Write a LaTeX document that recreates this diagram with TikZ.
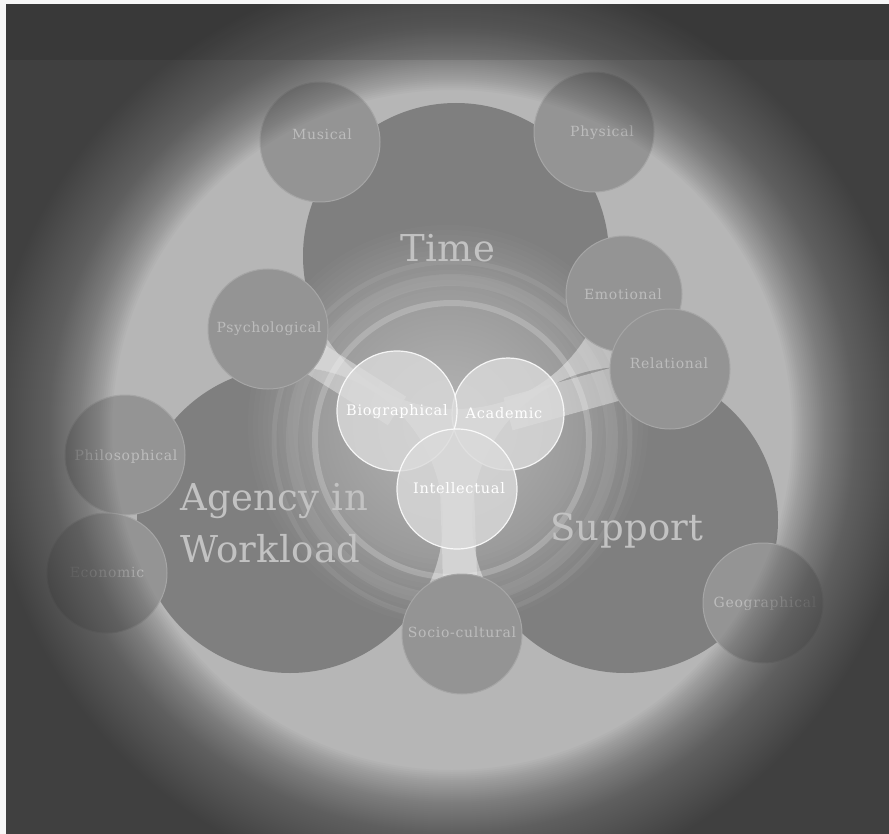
\documentclass[tikz,border=0pt]{standalone}
\usepackage{fontspec}
\setmainfont{DejaVu Serif}
\newfontfamily\labfont[LetterSpace=5]{DejaVu Serif}
\newfontfamily\bigfont[LetterSpace=1]{DejaVu Serif}
\definecolor{plate}{HTML}{B6B6B6}
\definecolor{bigc}{HTML}{7F7F7F}
\definecolor{satc}{HTML}{949494}
\definecolor{satrim}{HTML}{A6A6A6}
\definecolor{corec}{HTML}{DADADA}
\definecolor{labc}{HTML}{BCBCBC}
\definecolor{bigl}{HTML}{C2C2C2}
\definecolor{vdark}{HTML}{404040}
\pgfdeclarelayer{bg}
\pgfdeclarelayer{mid}
\pgfdeclarelayer{top}
\pgfsetlayers{bg,mid,main,top}
\tikzset{
  bigcircle/.style={circle, fill=bigc, minimum size=306pt, inner sep=0pt},
  sat/.style={circle, fill=satc, draw=satrim, line width=1pt, minimum size=120pt, inner sep=0pt},
  corecircle/.style={circle, fill=corec, fill opacity=0.8, draw=white, draw opacity=0.85, line width=1.2pt, minimum size=120pt, inner sep=0pt},
  lab/.style={text=labc, font=\labfont\fontsize{14}{16}\selectfont, inner sep=0pt, anchor=base},
  corelab/.style={text=white, font=\labfont\fontsize{14.5}{16}\selectfont, inner sep=0pt, anchor=base},
  bigtxt/.style={text=bigl, font=\bigfont\fontsize{37}{44}\selectfont, inner sep=0pt},
  band/.style={line width=34pt, draw=white, draw opacity=0.4},
  glowring/.style={draw=white, line width=#1},
}
\begin{document}
\begin{tikzpicture}[x=1pt,y=-1pt]
\useasboundingbox (0,0) rectangle (889,834);
\begin{pgfonlayer}{bg}
  \fill[plate] (0,0) rectangle (889,834);
  \node[bigcircle] (time) at (456,256) {};
  \node[bigcircle] (agency) at (290,520) {};
  \node[bigcircle] (support) at (625,520) {};
\end{pgfonlayer}

% satellites
\node[sat] (musical) at (320,142) {};
\node[sat] (physical) at (594,132) {};
\node[sat, minimum size=116pt] (emotional) at (624,294) {};
\node[sat] (relational) at (670,369) {};
\node[sat] (psychological) at (268,329) {};
\node[sat] (philosophical) at (125,455) {};
\node[sat] (economic) at (107,573) {};
\node[sat] (sociocultural) at (462,634) {};
\node[sat] (geographical) at (763,603) {};
% core circles
\node[corecircle, minimum size=112pt] (academic) at (508,414) {};
\node[corecircle] (biographical) at (397,411) {};
\node[corecircle] (intellectual) at (457,489) {};

% labels
\node[lab] (tMus) at (322,140) {Musical};
\node[lab] (tPhy) at (602,137) {Physical};
\node[lab] (tEmo) at (623,300) {Emotional};
\node[lab] (tRel) at (669,368) {Relational};
\node[lab] (tPsy) at (269,333) {Psychological};
\node[lab] (tPhi) at (126,460) {Philosophical};
\node[lab] (tEco) at (107,577) {Economic};
\node[lab] (tSoc) at (462,637) {Socio-cultural};
\node[lab] (tGeo) at (765,607) {Geographical};
\node[corelab] (tBio) at (397,415) {Biographical};
\node[corelab] (tAca) at (504,418) {Academic};
\node[corelab] (tInt) at (459,493) {Intellectual};

\begin{pgfonlayer}{mid}
  % connector bands from the core to three satellites
  \draw[band] (biographical.center) -- (psychological.center);
  \draw[band] (academic.center) -- (relational.center);
  \draw[band] (intellectual.center) -- (sociocultural.center);
  % central glow
  \foreach \r in {200,195,...,30} {
    \fill[white, fill opacity=0.02] (448,425) circle (\r pt);
  }
  % glowing rings
  \draw[glowring=6pt, draw opacity=0.2] (452,440) circle (137pt);
  \draw[glowring=12pt, draw opacity=0.07] (452,440) circle (160pt);
  \draw[glowring=5pt, draw opacity=0.07] (452,440) circle (178pt);
  % big labels
  \node[bigtxt, anchor=base] (tTime) at (448,262) {Time};
  \node[bigtxt, anchor=base west] (tAg1) at (180,510) {Agency in};
  \node[bigtxt, anchor=base west] (tAg2) at (180,562) {Workload};
  \node[bigtxt, anchor=base] (tSup) at (627,540) {Support};
\end{pgfonlayer}

\begin{pgfonlayer}{top}
  % soft vignette
  \foreach \r in {340,342,...,520} {
    \fill[vdark, fill opacity=0.03, even odd rule] (-5,-5) rectangle (894,839)
      (452,430) circle (\r pt);
  }
  \fill[black, fill opacity=0.1] (6,4) rectangle (889,60);
  % light border strips of the photo
  \fill[white!94!gray] (0,0) rectangle (6,834);
  \fill[white!94!gray] (0,0) rectangle (889,4);
\end{pgfonlayer}
\end{tikzpicture}
\end{document}
